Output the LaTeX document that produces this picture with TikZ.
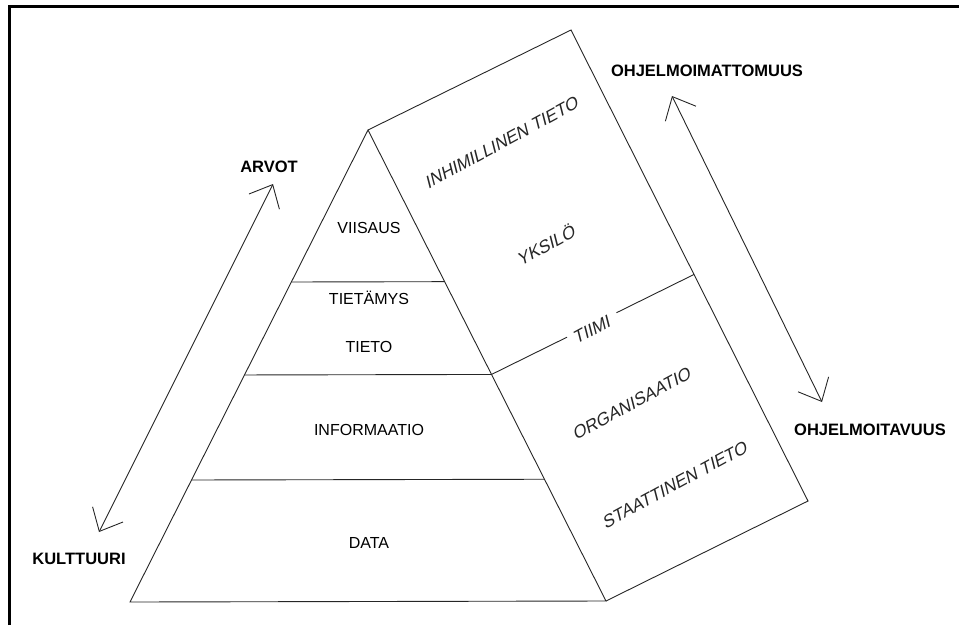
\documentclass[tikz,border=0pt]{standalone}
\usepackage{fontspec}
\setmainfont{Liberation Sans}
\newfontfamily\facefont{Liberation Sans}[FakeSlant=0.25]
\usetikzlibrary{calc,arrows.meta}

\tikzset{
  edge/.style={line width=0.9pt, draw=black!85},
  frame/.style={line width=3pt, draw=black},
  level/.style={font=\fontsize{16}{18}\selectfont, inner sep=0pt},
  facelabel/.style={font=\facefont\fontsize{17.5}{19}\selectfont, text=black!85, inner sep=0pt, rotate=28.5},
  sidelabel/.style={font=\fontsize{16.5}{19}\selectfont\bfseries, inner sep=0pt},
  twoway/.style={line width=0.9pt, draw=black!85,
    {Straight Barb[length=19pt,width=34pt,line width=0.9pt]}-{Straight Barb[length=19pt,width=34pt,line width=0.9pt]}}
}

\begin{document}
\begin{tikzpicture}[x=1pt,y=-1pt]
  \useasboundingbox (0,0) rectangle (959,625);

  % outer frame: top and left sides only
  \draw[frame] (9.5,625) -- (9.5,6) -- (959,6);

  % pyramid front face and the slanted side face
  \coordinate (apex) at (368,130);
  \coordinate (bl) at (130,602);
  \coordinate (br) at (606,601);
  \coordinate (tr) at (571,30);
  \coordinate (rr) at (808,501);

  \draw[edge] (bl) -- (apex) -- (br) -- cycle;
  \draw[edge] (apex) -- (tr) -- (rr) -- (br);

  % layer boundaries of the pyramid
  \coordinate (l1a) at ($(apex)!0.322!(bl)$);
  \coordinate (l1b) at ($(apex)!0.322!(br)$);
  \coordinate (l2a) at ($(apex)!0.519!(bl)$);
  \coordinate (l2b) at ($(apex)!0.519!(br)$);
  \coordinate (l3a) at ($(apex)!0.7415!(bl)$);
  \coordinate (l3b) at ($(apex)!0.7415!(br)$);
  \draw[edge] (l1a) -- (l1b);
  \draw[edge] (l2a) -- (l2b);
  \draw[edge] (l3a) -- (l3b);

  % team line across the side face, broken for its label
  \coordinate (tm) at ($(tr)!0.519!(rr)$);
  \draw[edge] (l2b) -- ($(l2b)!0.373!(tm)$);
  \draw[edge] ($(l2b)!0.617!(tm)$) -- (tm);

  % pyramid levels
  \node[level] (viisaus) at (369,228) {VIISAUS};
  \node[level] (tietamys) at (369,298) {TIETÄMYS};
  \node[level] (tieto) at (369,347) {TIETO};
  \node[level] (informaatio) at (369,430) {INFORMAATIO};
  \node[level] (data) at (369,543) {DATA};

  % side face labels
  \node[facelabel] (inhim) at (501,143) {INHIMILLINEN TIETO};
  \node[facelabel] (yksilo) at (545,245) {YKSILÖ};
  \node[facelabel] (tiimi) at (591,330) {TIIMI};
  \node[facelabel] (org) at (631,404) {ORGANISAATIO};
  \node[facelabel] (staat) at (674,485) {STAATTINEN TIETO};

  % outer labels
  \node[sidelabel] (arvot) at (269,167) {ARVOT};
  \node[sidelabel] (kult) at (79,559) {KULTTUURI};
  \node[sidelabel] (ohjm) at (707,71) {OHJELMOIMATTOMUUS};
  \node[sidelabel] (ohjt) at (870,430) {OHJELMOITAVUUS};

  % two-way arrows
  \coordinate (la) at (99,532);
  \coordinate (lb) at (273,184);
  \coordinate (ra) at (672,96);
  \coordinate (rb) at (822,402);
  \draw[twoway] (la) -- (lb);
  \draw[twoway] (ra) -- (rb);
\end{tikzpicture}
\end{document}
